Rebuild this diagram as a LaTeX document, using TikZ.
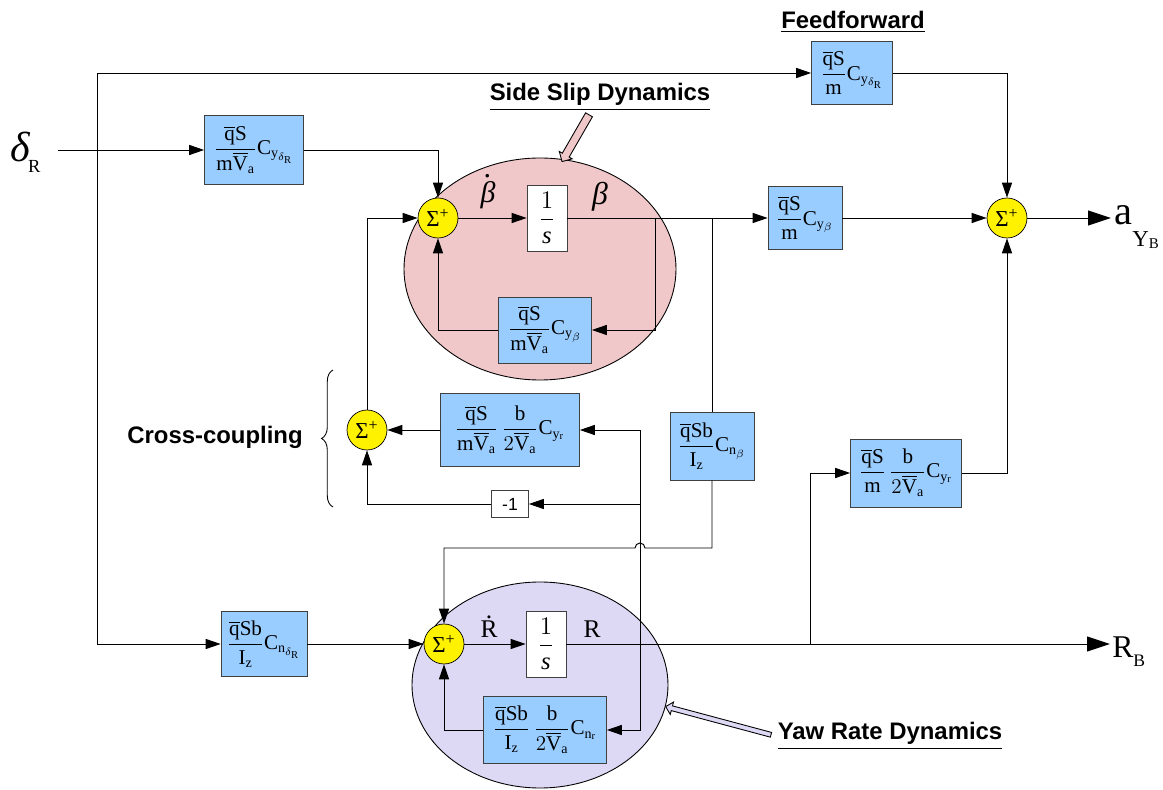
\documentclass[tikz,border=0pt]{standalone}
\usepackage{amsmath}
\usepackage{fontspec}
\setmainfont{Liberation Serif}
\newfontfamily\headfont{Liberation Sans}
\usepackage{tikz}
\usetikzlibrary{arrows.meta, calc, decorations.pathreplacing, shapes.arrows}
\definecolor{gainblue}{RGB}{153,204,255}
\definecolor{slipfill}{RGB}{240,200,201}
\definecolor{yawfill}{RGB}{221,216,244}
\newcommand\qb{\overline{\mathrm{q}}}
\newcommand\Vb{\overline{\mathrm{V}}_{\mathrm{a}}}
\newcommand\rmC[1]{\mathrm{C}_{#1}}
\newcommand\sumsign{Σ\textsuperscript{+}}
\newcommand\dotover[2]{\ooalign{\hfil\raisebox{#1}{.}\hfil\cr #2\cr}}
\tikzset{
  gain/.style={draw=black!75, fill=gainblue, inner sep=1pt, font=\fontsize{12}{14}\selectfont},
  integ/.style={draw=black!75, fill=white, inner sep=1pt, minimum width=0.8cm, minimum height=1.32cm, font=\fontsize{14}{16}\selectfont},
  summer/.style={circle, draw, fill=yellow, minimum size=0.8cm, inner sep=0pt, font=\fontsize{13}{15}\selectfont},
  sig/.style={-{Triangle[length=8.5pt, width=5.7pt]}, line width=0.55pt},
  outsig/.style={-{Triangle[length=13pt, width=8.5pt]}, line width=0.55pt},
  wire/.style={line width=0.55pt},
  heading/.style={font=\headfont\bfseries\fontsize{13.6}{16}\selectfont},
  fatarrow/.style={single arrow, draw, line width=0.5pt},
}
\begin{document}
\begin{tikzpicture}
  \useasboundingbox[fill=white] (0,0) rectangle (23.26,-15.8);
  % dynamics regions
  \draw[fill=slipfill, line width=0.5pt] (10.8,-5.38) ellipse [x radius=2.72, y radius=2.22];
  \draw[fill=yawfill, line width=0.5pt] (10.8,-13.7) ellipse [x radius=2.56, y radius=2.06];
  \node[fatarrow, fill=slipfill, minimum height=1.08cm, inner sep=0.07cm, single arrow head extend=0.07cm, rotate=240] (sarrow) at (11.53,-2.73) {};
  \node[fatarrow, fill=yawfill, minimum height=2.18cm, inner sep=0.04cm, single arrow head extend=0.08cm, rotate=165] (yarrow) at (14.39,-14.42) {};
  % blocks
  \node[gain, minimum width=1.98cm, minimum height=1.38cm] (blkD) at (5.08,-3.0) {$\dfrac{\qb\mathrm{S}}{\mathrm{m}\Vb}\rmC{\mathrm{y}_{\delta_\mathrm{R}}}$};
  \node[gain, minimum width=1.62cm, minimum height=1.26cm] (blkFF) at (17.04,-1.46) {$\dfrac{\qb\mathrm{S}}{\mathrm{m}}\rmC{\mathrm{y}_{\delta_\mathrm{R}}}$};
  \node[summer] (sumSS) at (8.76,-4.36) {\sumsign};
  \node[integ] (intB) at (10.94,-4.36) {$\dfrac{1}{\textit{s}}$};
  \node[gain, minimum width=1.86cm, minimum height=1.32cm] (fbB) at (10.9,-6.6) {$\dfrac{\qb\mathrm{S}}{\mathrm{m}\Vb}\rmC{\mathrm{y}_{\beta}}$};
  \node[gain, minimum width=1.48cm, minimum height=1.26cm] (blkYB) at (16.1,-4.36) {$\dfrac{\qb\mathrm{S}}{\mathrm{m}}\rmC{\mathrm{y}_{\beta}}$};
  \node[summer] (sumAY) at (20.14,-4.36) {\sumsign};
  \node[summer] (sumCC) at (7.34,-8.6) {\sumsign};
  \node[gain, minimum width=2.78cm, minimum height=1.46cm] (blkCC) at (10.2,-8.6) {$\dfrac{\qb\mathrm{S}}{\mathrm{m}\Vb}\,\dfrac{\mathrm{b}}{2\Vb}\rmC{\mathrm{y}_\mathrm{r}}$};
  \node[draw=black!75, fill=white, minimum width=0.74cm, minimum height=0.54cm, inner sep=0pt, font=\headfont\fontsize{10}{12}\selectfont] (neg) at (10.2,-10.08) {-1};
  \node[gain, minimum width=1.68cm, minimum height=1.36cm] (blkNB) at (14.24,-8.92) {$\dfrac{\qb\mathrm{Sb}}{\mathrm{I}_\mathrm{z}}\rmC{\mathrm{n}_{\beta}}$};
  \node[gain, minimum width=2.22cm, minimum height=1.36cm] (blkYR) at (18.12,-9.46) {$\dfrac{\qb\mathrm{S}}{\mathrm{m}}\,\dfrac{\mathrm{b}}{2\Vb}\rmC{\mathrm{y}_\mathrm{r}}$};
  \node[gain, minimum width=1.72cm, minimum height=1.3cm] (blkND) at (5.28,-12.88) {$\dfrac{\qb\mathrm{Sb}}{\mathrm{I}_\mathrm{z}}\rmC{\mathrm{n}_{\delta_\mathrm{R}}}$};
  \node[summer] (sumR) at (8.88,-12.88) {\sumsign};
  \node[integ] (intR) at (10.92,-12.88) {$\dfrac{1}{\textit{s}}$};
  \node[gain, minimum width=2.46cm, minimum height=1.34cm] (fbR) at (10.9,-14.6) {$\dfrac{\qb\mathrm{Sb}}{\mathrm{I}_\mathrm{z}}\,\dfrac{\mathrm{b}}{2\Vb}\rmC{\mathrm{n}_\mathrm{r}}$};
  % signal labels
  \node[anchor=base west, inner sep=0pt] (dR) at (0.2,-3.24) {{\fontsize{24}{24}\selectfont\itshape δ}\kern-1pt\raisebox{-5.7pt}{\fontsize{10.5}{10.5}\selectfont R}};
  \node[anchor=base west, inner sep=0pt] (aY) at (22.28,-4.5) {{\fontsize{23}{23}\selectfont a}\raisebox{-12pt}{\fontsize{13}{13}\selectfont Y\raisebox{-1.5pt}{\fontsize{8.5}{8.5}\selectfont B}}};
  \node[anchor=base west, inner sep=0pt] (RB) at (22.24,-13.16) {{\fontsize{18}{18}\selectfont R}\raisebox{-5pt}{\fontsize{10}{10}\selectfont B}};
  \node[anchor=base, inner sep=0pt, font=\fontsize{17}{17}\selectfont\itshape] (bdot) at (9.76,-4.06) {\dotover{0.85em}{β}};
  \node[anchor=base, inner sep=0pt, font=\fontsize{18}{18}\selectfont\itshape] (bet) at (12.0,-4.1) {β};
  \node[anchor=base, inner sep=0pt, font=\fontsize{14.5}{14.5}\selectfont] (rdot) at (9.78,-12.76) {\dotover{0.78em}{R}};
  \node[anchor=base, inner sep=0pt, font=\fontsize{14.5}{14.5}\selectfont] (rr) at (11.84,-12.76) {R};
  \node[heading] (hFF) at (17.06,-0.44) {\underline{Feedforward}};
  \node[heading] (hSS) at (12.0,-1.94) {\underline{Side Slip Dynamics}};
  \node[heading] (hYR) at (17.8,-14.72) {\underline{Yaw Rate Dynamics}};
  \node[heading] (hCC) at (4.3,-8.74) {Cross-coupling};
  % branch points
  \coordinate (inL) at (1.16,-3.0);
  \coordinate (trk) at (1.94,-12.88);
  \coordinate (bfb) at (13.1,-4.36);
  \coordinate (bnb) at (14.24,-4.36);
  \coordinate (rfb) at (12.8,-12.88);
  \coordinate (ryr) at (16.2,-12.88);
  \coordinate (hop) at (12.8,-10.96);
  \coordinate (aOut) at (22.22,-4.36);
  \coordinate (rOut) at (22.2,-12.88);
  % connectors
  \foreach \a/\b in {inL/blkD, sumSS/intB, intB/blkYB, blkYB/sumAY, blkCC/sumCC, trk/blkND, blkND/sumR, sumR/intR} \draw[sig] (\a) -- (\b);
  \draw[sig] (trk) |- (blkFF.west);
  \draw[sig] (blkD.east) -| (sumSS.north);
  \draw[sig] (blkFF.east) -| (sumAY.north);
  \draw[sig] (blkYR.east) -| (sumAY.south);
  \draw[outsig] (sumAY) -- (aOut);
  \draw[outsig] (intR) -- (rOut);
  \draw[sig] (bfb) |- (fbB.east);
  \draw[sig] (fbB.west) -| (sumSS.south);
  \draw[wire] (bnb) -- (blkNB.north);
  \draw[sig] (blkNB.south) |- ([xshift=0.1cm]hop) arc[start angle=0, end angle=180, radius=0.1cm] -| (sumR.north);
  \draw[sig] (sumCC.north) |- (sumSS.west);
  \draw[sig] (neg.west) -| (sumCC.south);
  \draw[sig] (rfb) |- (blkCC.east);
  \draw[sig] (rfb |- neg) -- (neg.east);
  \draw[sig] (rfb) |- (fbR.east);
  \draw[sig] (fbR.west) -| (sumR.south);
  \draw[sig] (ryr) |- (blkYR.west);
  \draw[decorate, decoration={brace, amplitude=6.5pt}, line width=0.5pt] (6.66,-10.14) -- (6.66,-7.4);
\end{tikzpicture}
\end{document}
